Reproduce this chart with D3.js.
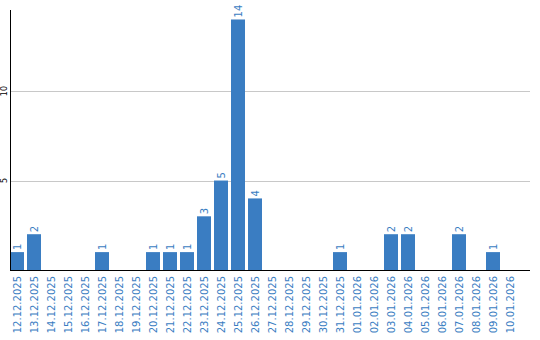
<!DOCTYPE html>
<html>
<head>
<meta charset="utf-8">
<script src="https://cdn.jsdelivr.net/npm/d3@7"></script>
<style>
  body { margin: 0; background: #fff; }
  svg { display: block; }
  text { font-family: "DejaVu Sans", Verdana, sans-serif; }
</style>
</head>
<body>
<div id="chart"></div>
<script>
// Daily counts, 12.12.2025 .. 10.01.2026
const days = [
  '12.12.2025', '13.12.2025', '14.12.2025', '15.12.2025', '16.12.2025',
  '17.12.2025', '18.12.2025', '19.12.2025', '20.12.2025', '21.12.2025',
  '22.12.2025', '23.12.2025', '24.12.2025', '25.12.2025', '26.12.2025',
  '27.12.2025', '28.12.2025', '29.12.2025', '30.12.2025', '31.12.2025',
  '01.01.2026', '02.01.2026', '03.01.2026', '04.01.2026', '05.01.2026',
  '06.01.2026', '07.01.2026', '08.01.2026', '09.01.2026', '10.01.2026'
];
const counts = [
  1, 2, 0, 0, 0,
  1, 0, 0, 1, 1,
  1, 3, 5, 14, 4,
  0, 0, 0, 0, 1,
  0, 0, 2, 2, 0,
  0, 2, 0, 1, 0
];
const yTicks = [5, 10];

const width = 540;
const height = 340;
const plotLeft = 10;
const plotRight = 530;
const plotBase = 270;
const plotTop = 10;
const barColor = '#3a7dc2';

const svg = d3.select('#chart').append('svg')
  .attr('width', width)
  .attr('height', height);

const x = d3.scaleBand()
  .domain(days)
  .range([plotLeft, 517])
  .paddingInner(3 / 17)
  .paddingOuter(0)
  .align(0);

const y = d3.scaleLinear()
  .domain([0, 14.53])
  .range([plotBase, plotTop]);

// Gridlines
svg.append('g')
  .selectAll('line')
  .data(yTicks)
  .join('line')
  .attr('x1', plotLeft)
  .attr('x2', plotRight)
  .attr('y1', d => Math.round(y(d)) + 0.5)
  .attr('y2', d => Math.round(y(d)) + 0.5)
  .attr('stroke', '#c8c8c8')
  .attr('stroke-width', 1);

// Y tick labels, rotated
svg.append('g')
  .selectAll('text')
  .data(yTicks)
  .join('text')
  .attr('transform', d => `translate(7,${y(d)}) rotate(-90)`)
  .attr('text-anchor', 'middle')
  .attr('font-size', 8)
  .attr('fill', '#000')
  .text(d => d);

// Bars
svg.append('g')
  .selectAll('rect')
  .data(days)
  .join('rect')
  .attr('x', d => Math.round(x(d)))
  .attr('y', (d, i) => y(counts[i]))
  .attr('width', Math.round(x.bandwidth()))
  .attr('height', (d, i) => plotBase - y(counts[i]))
  .attr('fill', barColor);

// Value labels above bars (skip zero days)
svg.append('g')
  .selectAll('text')
  .data(days.filter((d, i) => counts[i] > 0))
  .join('text')
  .attr('transform', d => {
    const v = counts[days.indexOf(d)];
    return `translate(${x(d) + x.bandwidth() / 2 + 4},${y(v) - 2}) rotate(-90)`;
  })
  .attr('font-size', 10)
  .attr('fill', barColor)
  .text(d => counts[days.indexOf(d)]);

// X axis labels, rotated
svg.append('g')
  .selectAll('text')
  .data(days)
  .join('text')
  .attr('transform', d => `translate(${x(d) + x.bandwidth() / 2 + 4},${plotBase + 6}) rotate(-90)`)
  .attr('text-anchor', 'end')
  .attr('font-size', 10)
  .attr('fill', barColor)
  .text(d => d);

// Axis lines
svg.append('line')
  .attr('x1', plotLeft + 0.5).attr('x2', plotLeft + 0.5)
  .attr('y1', plotTop).attr('y2', plotBase)
  .attr('stroke', '#000');
svg.append('line')
  .attr('x1', plotLeft).attr('x2', plotRight)
  .attr('y1', plotBase + 0.5).attr('y2', plotBase + 0.5)
  .attr('stroke', '#000');
</script>
</body>
</html>
